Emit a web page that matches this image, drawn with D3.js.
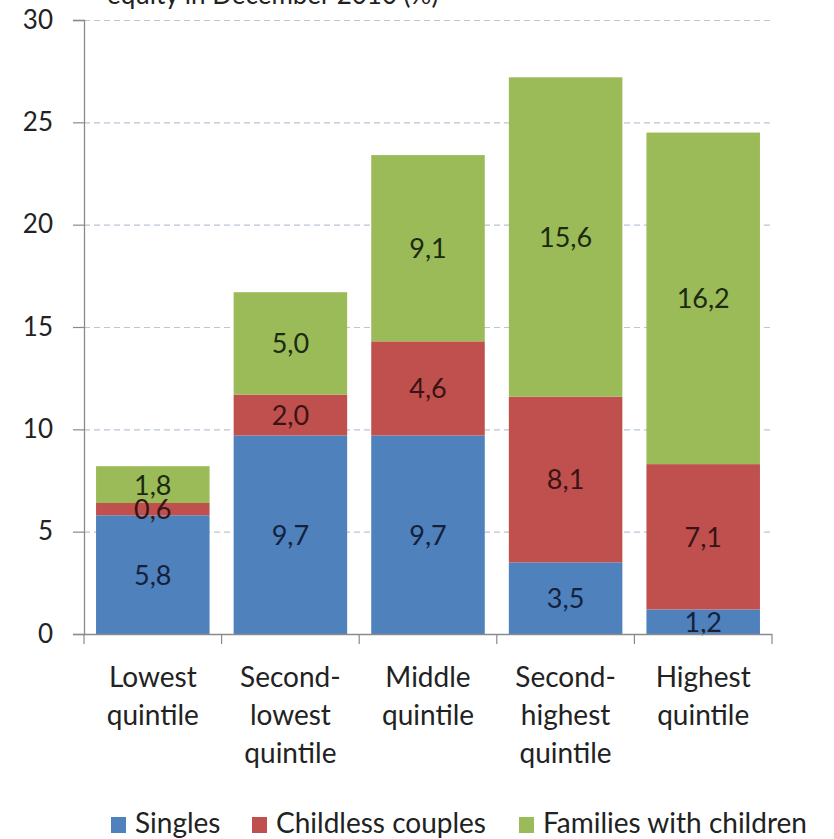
<!DOCTYPE html>
<html>
<head>
<meta charset="utf-8">
<script src="https://cdn.jsdelivr.net/npm/d3@7"></script>
<style>
  html, body { margin: 0; padding: 0; background: #fff; }
  svg { display: block; font-family: Lato, "Open Sans", sans-serif; }
</style>
</head>
<body>
<svg id="chart" width="834" height="839"></svg>
<script>
// Household share of negative equity by income quintile, December 2010 (%)
const categories = [
  ["Lowest", "quintile"],
  ["Second-", "lowest", "quintile"],
  ["Middle", "quintile"],
  ["Second-", "highest", "quintile"],
  ["Highest", "quintile"]
];
const seriesNames = ["Singles", "Childless couples", "Families with children"];
const singles   = [5.8, 9.7, 9.7, 3.5, 1.2];
const childless = [0.6, 2.0, 4.6, 8.1, 7.1];
const families  = [1.8, 5.0, 9.1, 15.6, 16.2];
const yTicks = [0, 5, 10, 15, 20, 25, 30];
const colors = ["#4f81bd", "#c0504d", "#9bbb59"];
const title = "equity in December 2010 (%)";

const svg = d3.select("#chart");
const plotLeft = 84, plotRight = 772, plotTop = 20, plotBottom = 634;

const x = d3.scaleBand().domain(d3.range(categories.length)).range([plotLeft, plotRight]).paddingInner(0.175).paddingOuter(0.0875);
const y = d3.scaleLinear().domain([0, 30]).range([plotBottom, plotTop]);

// Title line (its upper part runs off the top edge)
svg.append("text").attr("x", 107).attr("y", 4).attr("font-size", 26).attr("fill", "#222").text(title);

// Dashed gridlines
svg.append("g").selectAll("line").data(yTicks.filter(d => d > 0)).join("line")
  .attr("x1", plotLeft).attr("x2", plotRight)
  .attr("y1", d => y(d) + 0.5).attr("y2", d => y(d) + 0.5)
  .attr("stroke", "#b8c6d6").attr("stroke-width", 1.2).attr("stroke-dasharray", "6,4");

// Stacked bars
const rows = categories.map((c, i) => ({ i, s0: singles[i], s1: childless[i], s2: families[i] }));
const stack = d3.stack().keys(["s0", "s1", "s2"])(rows);
const layers = svg.append("g").selectAll("g").data(stack).join("g").attr("fill", (d, k) => colors[k]);
layers.selectAll("rect").data(d => d).join("rect")
  .attr("x", d => x(d.data.i)).attr("width", x.bandwidth())
  .attr("y", d => y(d[1])).attr("height", d => y(d[0]) - y(d[1]));

// Value labels inside segments
const labelColors = ["#14213d", "#3a1414", "#1c2a10"];
stack.forEach((layer, k) => {
  svg.append("g").selectAll("text").data(layer).join("text")
    .attr("x", d => x(d.data.i) + x.bandwidth() / 2)
    .attr("y", d => (y(d[0]) + y(d[1])) / 2 + 10)
    .attr("text-anchor", "middle").attr("font-size", 27).attr("fill", labelColors[k])
    .text(d => d3.format(".1f")(d[1] - d[0]).replace(".", ","));
});

// Y axis
const yAxis = svg.append("g").attr("transform", `translate(${plotLeft},0)`)
  .call(d3.axisLeft(y).tickValues(yTicks).tickSize(11).tickPadding(20).tickFormat(d => d));
yAxis.select(".domain").attr("stroke", "#8a8a8a").attr("stroke-width", 1.3);
yAxis.selectAll(".tick line").attr("stroke", "#8a8a8a").attr("stroke-width", 1.2);
yAxis.selectAll(".tick text").attr("font-size", 26).attr("fill", "#222").attr("font-family", "Lato, sans-serif");

// X axis baseline and category separators
svg.append("line").attr("x1", plotLeft).attr("x2", plotRight).attr("y1", plotBottom + 0.5).attr("y2", plotBottom + 0.5)
  .attr("stroke", "#8a8a8a").attr("stroke-width", 1.3);
const step = x.step();
svg.append("g").selectAll("line").data(d3.range(categories.length + 1)).join("line")
  .attr("x1", i => plotLeft + i * step).attr("x2", i => plotLeft + i * step)
  .attr("y1", plotBottom).attr("y2", plotBottom + 10)
  .attr("stroke", "#8a8a8a").attr("stroke-width", 1.2);

// Category labels
const catG = svg.append("g").selectAll("text").data(categories).join("text")
  .attr("text-anchor", "middle").attr("font-size", 28).attr("fill", "#222")
  .attr("x", (d, i) => x(i) + x.bandwidth() / 2);
catG.selectAll("tspan").data(d => d).join("tspan")
  .attr("x", function () { return d3.select(this.parentNode).attr("x"); })
  .attr("y", (d, j) => 687 + j * 38)
  .text(d => d);

// Legend
const legendX = [111, 252, 519];
const lg = svg.append("g").selectAll("g").data(seriesNames).join("g")
  .attr("transform", (d, k) => `translate(${legendX[k]},0)`);
lg.append("rect").attr("x", 0).attr("y", 817).attr("width", 15).attr("height", 16).attr("fill", (d, k) => colors[k]);
lg.append("text").attr("x", 24).attr("y", 833).attr("font-size", 28).attr("fill", "#222").text(d => d);
</script>
</body>
</html>
